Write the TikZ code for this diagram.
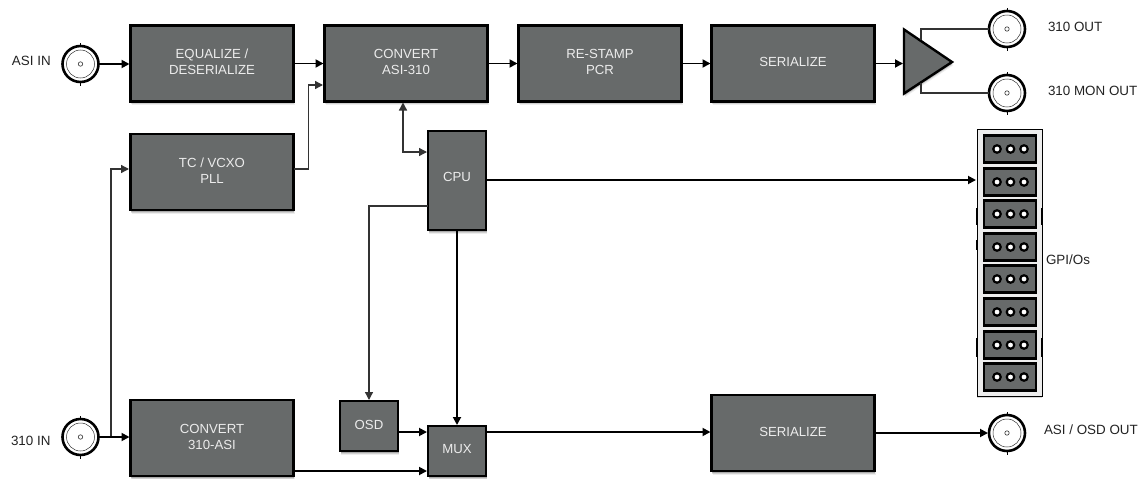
\documentclass[tikz,border=0pt]{standalone}
\usepackage{fontspec}
\setmainfont{Liberation Sans}
\usetikzlibrary{arrows.meta,shadows,calc}
\definecolor{boxfill}{HTML}{676A6A}
\definecolor{boxtext}{HTML}{ECECEC}
\definecolor{labeltext}{HTML}{222222}
\definecolor{thinline}{HTML}{333333}
\tikzset{
  softshadow/.style={drop shadow={shadow xshift=0.5pt,shadow yshift=-1.5pt,opacity=.18,fill=black},
                     drop shadow={shadow xshift=0.5pt,shadow yshift=-2.5pt,opacity=.12,fill=black},
                     drop shadow={shadow xshift=1pt,shadow yshift=-3.5pt,opacity=.07,fill=black}},
  block/.style={draw=black,line width=2.4pt,fill=boxfill,text=boxtext,align=center,outer sep=0pt,inner sep=0pt,
                font=\fontsize{13.2}{16}\selectfont,softshadow},
  bigblock/.style={block,minimum width=163pt,minimum height=76pt},
  smallblock/.style={block,minimum width=58pt},
  bnc/.style={circle,draw=black,line width=2.6pt,fill=white,minimum size=36pt,inner sep=0pt,outer sep=0pt},
  bncinner/.style={draw=thinline,line width=.5pt},
  lab/.style={text=labeltext,font=\fontsize{13.4}{15}\selectfont,inner sep=0pt,outer sep=0pt},
  thick link/.style={draw=black,line width=1.8pt,-{Triangle[length=8pt,width=8pt]},shorten >=1pt},
  thin link/.style={draw=thinline,line width=1.3pt,-{Triangle[length=8pt,width=8pt]},shorten >=1pt},
  plain link/.style={draw=thinline,line width=1.3pt},
  gpiocell/.style={draw=black,line width=2.2pt,fill=boxfill,minimum width=52pt,minimum height=27pt,inner sep=0pt,outer sep=0pt,
                   drop shadow={shadow xshift=0pt,shadow yshift=-1pt,opacity=.25,fill=black}},
  gpiohole/.style={circle,draw=black,line width=2.2pt,fill=white,minimum size=7.5pt,inner sep=0pt,outer sep=0pt},
}
\begin{document}
\begin{tikzpicture}[x=1pt,y=-1pt]
\useasboundingbox (0,0) rectangle (1138,479);

% main blocks
\node[bigblock] (eq)   at (212,63.5) {EQUALIZE /\\DESERIALIZE\\[-13pt]};
\node[bigblock] (conv) at (406,63.5) {CONVERT\\ASI-310\\[-13pt]};
\node[bigblock] (pcr)  at (600,63.5) {RE-STAMP\\PCR\\[-13pt]};
\node[bigblock] (ser)  at (793,63.5) {SERIALIZE\\[-13pt]};
\node[bigblock] (tc)   at (212,172)  {TC / VCXO\\PLL\\[-13pt]};
\node[bigblock] (casi) at (212,438)  {CONVERT\\310-ASI\\[-13pt]};
\node[bigblock] (ser2) at (793,433)  {SERIALIZE\\[-13pt]};
\node[smallblock,minimum height=99pt] (cpu) at (457,180.5) {CPU\\[-9pt]};
\node[smallblock,minimum height=50pt] (osd) at (369,426) {OSD\\[-13pt]};
\node[smallblock,minimum height=50pt] (mux) at (457,451) {MUX\\[-11pt]};

% amplifier
\coordinate (ampin) at (904,63.5);
\draw[draw=black,line width=2.4pt,fill=boxfill,line join=miter,softshadow] (904,29.5) -- (952,62) -- (904,93.5) -- cycle;

% BNC connectors
\node[bnc] (asiin)  at (80.5,64)  {};
\node[bnc] (in310)  at (80.5,437) {};
\node[bnc] (out310) at (1007,29)  {};
\node[bnc] (mon)    at (1007,93)  {};
\node[bnc] (outasi) at (1007,433) {};
\foreach \n in {asiin,in310,out310,mon,outasi}{
  \draw[bncinner] (\n.center) circle (14pt);
  \draw[bncinner,line width=.6pt] (\n.center) circle (2.2pt);
  \draw[black,line width=1pt] (\n.north) -- +(0,-3.5);
  \draw[black,line width=1pt] (\n.south) -- +(0,3.5);
}

% GPIO panel
\node[draw=black,line width=.9pt,fill=white!93!black,minimum width=65pt,minimum height=267pt,inner sep=0pt,outer sep=0pt,
      drop shadow={shadow xshift=0pt,shadow yshift=-2pt,opacity=.15,fill=black}] (gpio) at (1009.5,262.5) {};
\foreach \i/\y in {1/149,2/182,3/214,4/247,5/279,6/312,7/345,8/377}{
  \node[gpiocell] (cell\i) at (1010,\y) {};
  \node[gpiohole] (hole\i a) at (997,\y) {};
  \node[gpiohole] (hole\i b) at (1010.5,\y) {};
  \node[gpiohole] (hole\i c) at (1024,\y) {};
}
\foreach \a/\b in {208/225,240/250,338/357}{
  \draw[black,line width=2pt] (gpio.west |- 0,\a) -- (gpio.west |- 0,\b);
}
\foreach \a/\b in {208/225,338/357}{
  \draw[black,line width=1.6pt] (gpio.east |- 0,\a) -- (gpio.east |- 0,\b);
}

% labels
\node[lab,anchor=west] (lasi)  at (12,61)   {ASI IN};
\node[lab,anchor=west] (l310)  at (11,441)  {310 IN};
\node[lab,anchor=west] (lout)  at (1048,27) {310 OUT};
\node[lab,anchor=west] (lmon)  at (1048,91) {310 MON OUT};
\node[lab,anchor=west] (lgpio) at (1046,260) {GPI/Os};
\node[lab,anchor=west] (laout) at (1044,430) {ASI / OSD OUT};

% connectors, top row
\draw[thick link] (asiin.east) -- (eq.west |- asiin.east);
\draw[thick link] (eq.east) -- (conv.west);
\draw[thick link] (conv.east) -- (pcr.west);
\draw[thick link] (pcr.east) -- (ser.west);
\draw[thick link] (ser.east) -- (ampin);
\draw[plain link] (921,40) |- (out310.west);
\draw[plain link] (921,83) |- (mon.west);

% PLL
\coordinate (convpll) at (324,85);
\coordinate (tcin) at (130,169);
\coordinate (tcout) at (294,169);
\draw[thin link] (tcout) -| (308.5,85) -- (convpll);
\coordinate (inbranch) at (111,437);
\draw[thin link] (inbranch) |- (tcin);

% CPU
\coordinate (cpuconv) at (403,101.5);
\coordinate (cpuin) at (428,152);
\draw[thin link,{Triangle[length=8pt,width=8pt]}-{Triangle[length=8pt,width=8pt]},shorten <=1pt] (cpuconv) |- (cpuin);
\coordinate (cpuosd) at (428,206);
\draw[thin link] (cpuosd) -| (osd.north);
\draw[thick link] (cpu.south) -- (mux.north);
\coordinate (cpugpio) at (487,180);
\draw[thick link] (cpugpio) -- (gpio.west |- cpugpio);

% bottom row
\draw[thick link] (in310.east) -- (casi.west |- in310.east);
\coordinate (osdout) at (398,432);
\coordinate (muxin1) at (428,432);
\draw[thick link] (osdout) -- (muxin1);
\coordinate (casiout) at (295,471);
\coordinate (muxin2) at (428,471);
\draw[thick link] (casiout) -- (muxin2);
\coordinate (muxout) at (487,432);
\draw[thick link] (muxout) -- (ser2.west |- muxout);
\draw[thick link] (ser2.east) -- (outasi.west);
\end{tikzpicture}
\end{document}
